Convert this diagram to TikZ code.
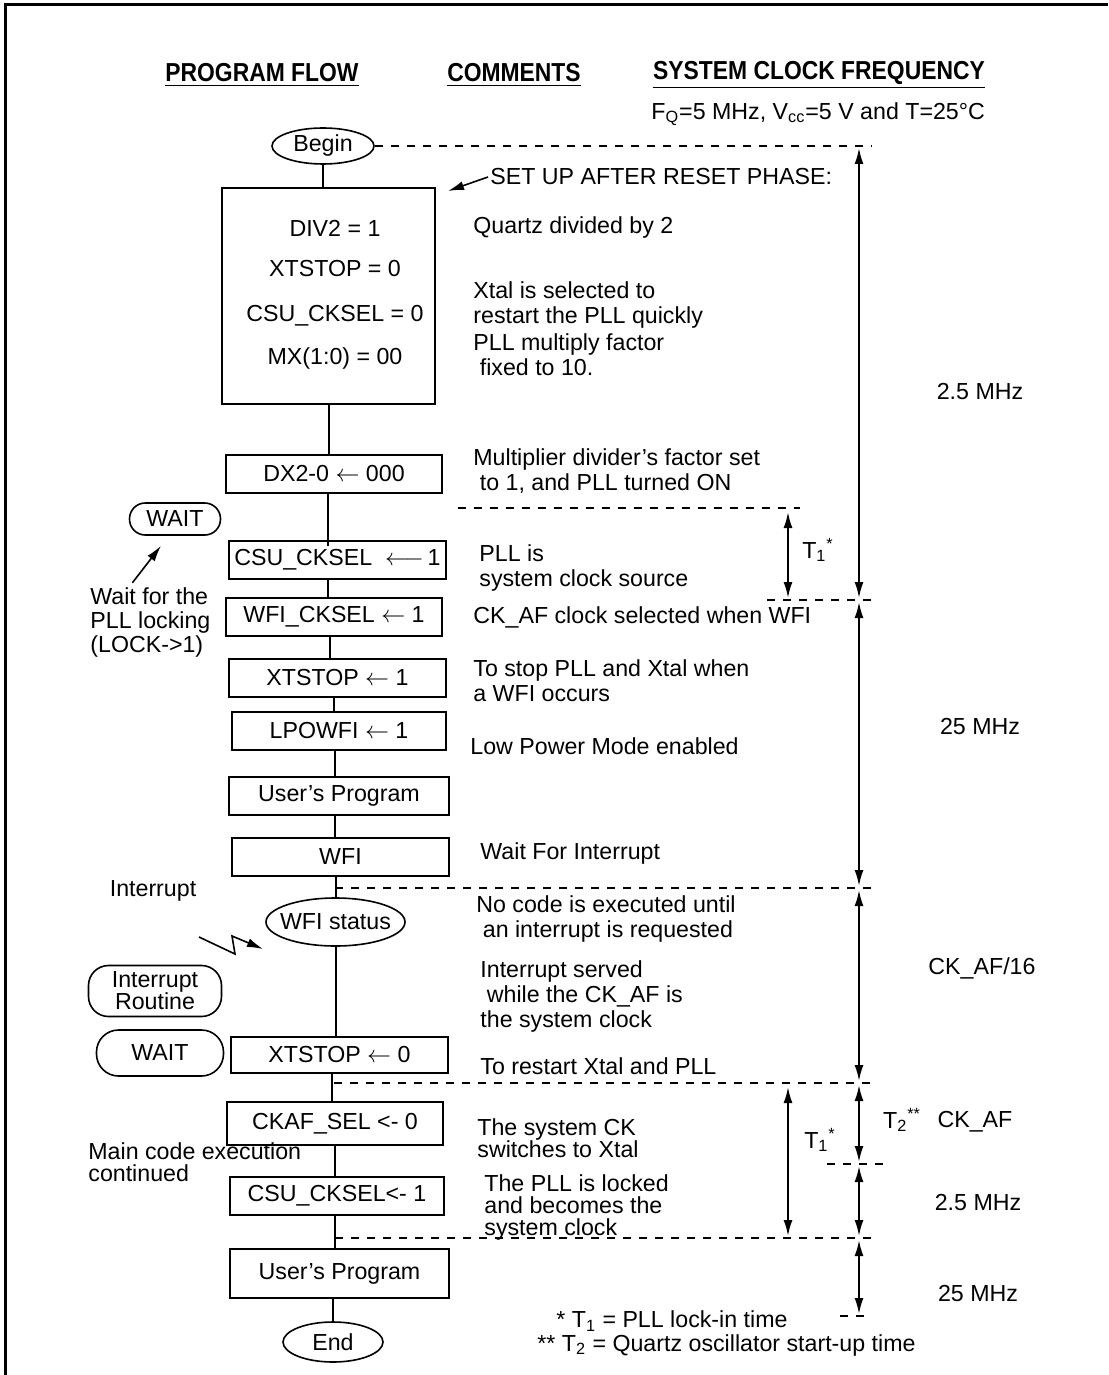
\documentclass[tikz,border=0pt]{standalone}
\usepackage{fontspec}
\setmainfont{Liberation Sans}
\newfontfamily\headfont[FakeStretch=0.88]{Liberation Sans}
\usetikzlibrary{arrows.meta,shapes.geometric}

\begin{document}
\begin{tikzpicture}[x=0.5pt,y=-0.5pt,
  every node/.style={font=\fontsize{11.6}{12.5}\selectfont},
  stepbox/.style={draw,line width=1pt,inner sep=0pt,minimum height=19pt},
  term/.style={draw,ellipse,line width=0.8pt,inner xsep=-5pt,inner ysep=-1pt},
  waitbox/.style={draw,rounded corners=10pt,line width=0.8pt,inner sep=0pt,align=center},
  note/.style={anchor=west,align=left,inner sep=0pt},
  head/.style={font=\headfont\bfseries\fontsize{13}{15}\selectfont},
  flow/.style={line width=1pt},
  tick/.style={line width=0.9pt,dash pattern=on 4pt off 4pt},
  tip/.style={-{Latex[length=8pt,width=4.5pt]},line width=0.8pt},
  span/.style={{Latex[length=8pt,width=4.5pt]}-{Latex[length=8pt,width=4.5pt]},line width=1pt,shorten <=1pt,shorten >=1pt}]
  \useasboundingbox (0,0) rectangle (1108,1375);

  % Frame
  \draw[line width=1.5pt] (5,1375) -- (5,5) -- (1108,5);

  % Column titles
  \node[head] (hflow) at (262,75) {\underline{PROGRAM FLOW}};
  \node[head] (hcom) at (514,75) {\underline{COMMENTS}};
  \node[head] (hfreq) at (819,75) {\underline{SYSTEM CLOCK FREQUENCY}};
  \node[anchor=east] (cond) at (992,114) {F\textsubscript{Q}=5 MHz, V\textsubscript{cc}=5 V and T=25°C};

  % Program flow
  \node[term,minimum width=51pt,minimum height=18pt] (begin) at (323,146) {Begin};
  \node[stepbox,minimum width=106.5pt,minimum height=108pt] (setup) at (328.5,296) {};
    \node (div) at (335,228) {DIV2 = 1};
    \node (xts) at (335,269) {XTSTOP = 0};
    \node (csusel) at (335,316) {CSU\_CKSEL = 0};
    \node (mx) at (335,358) {MX(1:0) = 00};
  \node[stepbox,minimum width=108pt] (dx) at (334,474) {DX2-0 $\leftarrow$ 000};
  \node[stepbox,minimum width=108.5pt] (csu) at (337.5,560) {CSU\_CKSEL\ \ $\longleftarrow$\,1};
  \node[stepbox,minimum width=108pt] (wfisel) at (334,617) {WFI\_CKSEL $\leftarrow$ 1};
  \node[stepbox,minimum width=108.5pt] (xton) at (337.5,678) {XTSTOP $\leftarrow$ 1};
  \node[stepbox,minimum width=107pt] (lpow) at (339,731) {LPOWFI $\leftarrow$ 1};
  \node[stepbox,minimum width=110pt] (user) at (339,796) {User’s Program};
  \node[stepbox,minimum width=108.5pt] (wfi) at (340.5,857) {WFI};
  \node[term,minimum width=69.5pt,minimum height=24pt] (wfist) at (335.5,922) {WFI status};
  \node[stepbox,minimum width=108.5pt,minimum height=18pt] (xtoff) at (339.5,1055) {XTSTOP $\leftarrow$ 0};
  \node[stepbox,minimum width=108pt,minimum height=21.5pt] (ckaf) at (335,1123.5) {CKAF\_SEL <- 0};
  \node[stepbox,minimum width=107pt] (csuon) at (337,1195.5) {CSU\_CKSEL<- 1};
  \node[stepbox,minimum width=109.5pt,minimum height=24.5pt] (user2) at (339.5,1273.5) {User’s Program\hspace{16pt}};
  \node[term,minimum width=50pt,minimum height=20pt] (end) at (333,1342) {End};

  % Flow lines
  \draw[flow] (begin.south) -- (begin.south |- setup.north);
  \draw[flow] (setup.south) -- (setup.south |- dx.north);
  \draw[flow] ([xshift=-3pt]dx.south) -- ([xshift=-3pt,yshift=-3pt]dx.south |- csu.north);
  \draw[flow] ([xshift=-5pt]csu.south) -- ([xshift=-5pt]csu.south |- wfisel.north);
  \draw[flow] ([xshift=-2pt]wfisel.south) -- ([xshift=-2pt]wfisel.south |- xton.north);
  \draw[flow] ([xshift=-2pt]xton.south) -- ([xshift=-2pt]xton.south |- lpow.north);
  \draw[flow] ([xshift=-2pt]lpow.south) -- ([xshift=-2pt]lpow.south |- user.north);
  \draw[flow] ([xshift=-2pt]user.south) -- ([xshift=-2pt]user.south |- wfi.north);
  \draw[flow] (wfist.north |- wfi.south) -- (wfist.north);
  \draw[flow] (wfist.south) -- (wfist.south |- xtoff.north);
  \draw[flow] ([xshift=-4pt]xtoff.south) -- ([xshift=-4pt]xtoff.south |- ckaf.north);
  \draw[flow] (ckaf.south) -- (ckaf.south |- csuon.north);
  \draw[flow] ([xshift=-1pt]csuon.south) -- ([xshift=-1pt]csuon.south |- user2.north);
  \draw[flow] (end.north |- user2.south) -- (end.north);

  % Side boxes on the left
  \node[waitbox,minimum width=45.5pt,minimum height=16pt,rounded corners=7.9pt] (wait) at (175,519) {WAIT};
  \node[note,font=\fontsize{11.6}{12}\selectfont] (lockwait) at (90,622) {Wait for the\\PLL locking\\(LOCK->1)};
  \draw[tip] ([xshift=-9pt,yshift=2pt]lockwait.north) -- ([xshift=-7pt,yshift=-5pt]wait.south);
  \node (intr) at (153,891) {Interrupt};
  \coordinate (hit) at (263,949);
  \draw[tip] (199,937) -- (235,954) -- (232,936) -- (hit);
  \node[waitbox,minimum width=66.5pt,minimum height=25.5pt,font=\fontsize{11.6}{11}\selectfont] (isr) at (155,991) {Interrupt\\Routine};
  \node[waitbox,minimum width=63.5pt,minimum height=23pt,rounded corners=11pt] (wait2) at (160,1053) {WAIT};
  \node[note,font=\fontsize{11.6}{10.8}\selectfont] (cont) at (88,1162) {Main code execution\\continued};

  % Comments
  \node[note] (setnote) at (490,177) {SET UP AFTER RESET PHASE:};
  \draw[tip] ([xshift=-1pt]setnote.west) -- ([xshift=6pt,yshift=-2pt]setup.north east);
  \node[note] (c1) at (473,228) {Quartz divided by 2};
  \node[note] (c2) at (473,305) {Xtal is selected to\\restart the PLL quickly};
  \node[note] (c3) at (473,355) {PLL multiply factor\\\ fixed to 10.};
  \node[note] (c4) at (473,471) {Multiplier divider’s factor set\\\ to 1, and PLL turned ON};
  \node[note] (c5) at (479,568) {PLL is\\system clock source};
  \node[note] (c6) at (473,617) {CK\_AF clock selected when WFI};
  \node[note] (c7) at (473,681) {To stop PLL and Xtal when\\a WFI occurs};
  \node[note] (c8) at (470,746) {Low Power Mode enabled};
  \node[note] (c9) at (480,853) {Wait For Interrupt};
  \node[note] (c10) at (476,919) {No code is executed until\\\ an interrupt is requested};
  \node[note] (c11) at (480,996) {Interrupt served\\\ while the CK\_AF is\\the system clock};
  \node[note] (c12) at (480,1066) {To restart Xtal and PLL};
  \node[note,font=\fontsize{11.6}{11}\selectfont] (c13) at (477,1138) {The system CK\\switches to Xtal};
  \node[note,font=\fontsize{11.6}{11}\selectfont] (c14) at (484,1207) {The PLL is locked\\and becomes the\\system clock};

  % Time marks
  \coordinate (m0) at (859,146);
  \coordinate (m1) at (859,600);
  \coordinate (m2) at (859,888);
  \coordinate (m3) at (859,1083);
  \coordinate (m4) at (859,1164);
  \coordinate (m5) at (859,1238);
  \coordinate (m6) at (859,1316);
  \draw[tick] (begin.east) -- ([xshift=6pt]m0);
  \draw[tick] (458,508) -- (800,508);
  \draw[tick] (767,600) -- ([xshift=7pt]m1);
  \draw[tick] (335,888) -- ([xshift=7pt]m2);
  \draw[tick] (334,1083) -- ([xshift=7pt]m3);
  \draw[tick] (827,1164) -- ([xshift=14pt]m4);
  \draw[tick] (335,1238) -- ([xshift=7pt]m5);
  \draw[tick] (840,1316) -- ([xshift=4pt]m6);

  % Clock phases
  \draw[span] (m0) -- (m1);
  \draw[span] (m1) -- (m2);
  \draw[span] (m2) -- (m3);
  \draw[span] (m3) -- (m4);
  \draw[span] (m4) -- (m5);
  \draw[span] (m5) -- (m6);
  \coordinate (p0) at (788,508);
  \coordinate (p1) at (788,600);
  \coordinate (q0) at (788,1083);
  \coordinate (q1) at (788,1238);
  \draw[span,shorten <=2pt,shorten >=1pt] (p0) -- (p1);
  \draw[span,shorten <=2pt,shorten >=1pt] (q0) -- (q1);
  \node (t1a) at (818,550) {T\textsubscript{1}\textsuperscript{*}};
  \node (t1b) at (820,1140) {T\textsubscript{1}\textsuperscript{*}};
  \node (t2) at (902,1120) {T\textsubscript{2}\textsuperscript{**}};
  \node (f1) at (980,392) {2.5 MHz};
  \node (f2) at (980,727) {25 MHz};
  \node (f3) at (982,968) {CK\_AF/16};
  \node (f4) at (975,1122) {CK\_AF};
  \node (f5) at (978,1202) {2.5 MHz};
  \node (f6) at (978,1293) {25 MHz};

  % Footnotes
  \node[note] (fn1) at (556,1321) {* T\textsubscript{1} = PLL lock-in time};
  \node[note] (fn2) at (537,1345) {** T\textsubscript{2} = Quartz oscillator start-up time};

\end{tikzpicture}
\end{document}
